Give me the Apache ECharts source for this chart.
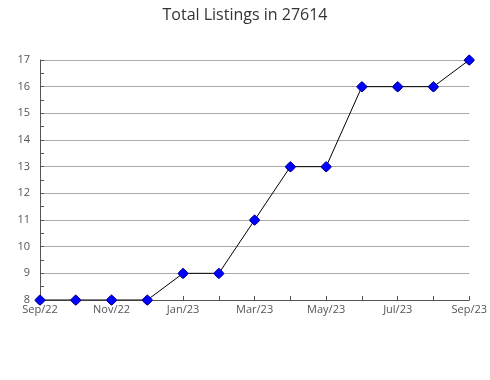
<!DOCTYPE html>
<html><head><meta charset="utf-8">
<script src="https://cdn.jsdelivr.net/npm/echarts@6/dist/echarts.min.js"></script>
<style>html,body{margin:0;padding:0;background:#fff}#c{width:490px;height:380px}</style>
</head><body><div id="c"></div>
<script>
const categories = ['Sep/22','Oct/22','Nov/22','Dec/22','Jan/23','Feb/23','Mar/23','Apr/23','May/23','Jun/23','Jul/23','Aug/23','Sep/23'];
const listings = [8,8,8,8,9,9,11,13,13,16,16,16,17];
const yMin = 8, yMax = 17;
const chart = echarts.init(document.getElementById('c'));
chart.setOption({
  animation:false,
  backgroundColor:'#fff',
  title:{text:'Total Listings in 27614',left:'center',top:2,textStyle:{fontFamily:'Open Sans',fontWeight:'normal',fontSize:16,color:'#333'}},
  grid:{left:40,right:19,top:60,bottom:80},
  xAxis:{type:'category',data:categories,boundaryGap:false,
    axisLine:{lineStyle:{color:'#555'}},
    axisTick:{inside:true,length:4,interval:0,lineStyle:{color:'#555'}},
    axisLabel:{interval:1,color:'#555',fontFamily:'Open Sans',fontSize:11,margin:4},
    splitLine:{show:false}},
  yAxis:{type:'value',min:yMin,max:yMax,interval:1,
    axisLine:{show:true,lineStyle:{color:'#555'}},
    axisTick:{show:true,inside:true,length:4,lineStyle:{color:'#555'}},
    minorTick:{show:true,splitNumber:2,length:4,lineStyle:{color:'#555'}},
    axisLabel:{color:'#555',fontFamily:'Open Sans',fontSize:11,margin:10},
    splitLine:{lineStyle:{color:'#aaa'}}},
  series:[{type:'line',data:listings,
    symbol:'path://M50,2 Q54,2 60,10 L90,42 Q98,50 90,58 L60,90 Q50,100 40,90 L10,58 Q2,50 10,42 L40,10 Q46,2 50,2 Z',
    symbolSize:10,
    lineStyle:{color:'#000',width:1},
    itemStyle:{color:'#0000ff',borderColor:'#00008b',borderWidth:1}}]
});
</script></body></html>
